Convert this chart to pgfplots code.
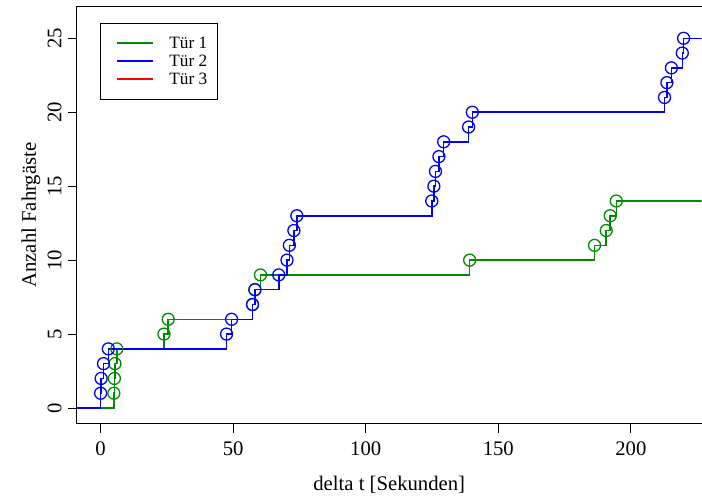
\documentclass[border=0pt]{standalone}
\usepackage{fontspec}
\setmainfont{Liberation Serif}
\usepackage{pgfplots}
\pgfplotsset{compat=1.18}
\definecolor{rgreen}{RGB}{0,139,0}
\definecolor{rblue}{RGB}{0,0,255}
\definecolor{rred}{RGB}{255,0,0}
\pgfplotsset{
  rlegend/.style={legend image code/.code={
    \path[draw=none] (0bp,0bp) -- (42.3bp,0bp);
    \draw[draw=#1, line width=1.5bp] (6.3bp,5.7bp) -- (42.3bp,5.7bp);
  }},
}
\begin{document}
\begin{tikzpicture}
\begin{axis}[
  every non boxed x axis/.style={},
  every non boxed y axis/.style={},
  scale only axis, width=625bp, height=417.5bp,
  xmin=-8.93, xmax=226.65, ymin=-1.06, ymax=27.15,
  axis x line*=box, axis y line*=left,
  axis line style={-, line width=1bp, black},
  xtick={0,50,...,200}, ytick={0,5,...,25},
  xtick pos=bottom, ytick pos=left,
  tick align=outside, major tick length=9bp,
  tick style={line width=1bp, black},
  /pgf/number format/assume math mode=true,
  ticklabel style={font=\fontsize{20.7bp}{24bp}\selectfont, inner sep=0pt},
  xticklabel style={anchor=north},
  yticklabel style={rotate=90, anchor=south},
  xticklabel shift=9bp, yticklabel shift=6.3bp,
  xlabel={delta t [Sekunden]}, ylabel={Anzahl Fahrgäste},
  every axis x label/.style={at={(axis description cs:0.5,0)}, yshift=-61.5bp, anchor=center},
  every axis y label/.style={at={(axis description cs:0,0.5)}, xshift=-46bp, rotate=90, anchor=center},
  label style={font=\fontsize{20.7bp}{24bp}\selectfont, inner sep=0pt},
  legend style={at={(rel axis cs:0.0368,0.9612)}, anchor=north west,
    draw=black, line width=0.9bp, fill=white,
    inner xsep=10.4bp, inner ysep=10.8bp,
    row sep=-0.4bp, column sep=15.6bp,
    font=\fontsize{17.3bp}{20bp}\selectfont,
    nodes={inner sep=0pt, anchor=base west, text height=14.9bp, text depth=3.5bp, draw=none}},
  legend cell align=left,
]
\coordinate (BL) at (rel axis cs:0,0);
\coordinate (TR) at (rel axis cs:1,1);
% Tür 1
\addplot[const plot mark left, color=rgreen, line width=1.5bp, no markers, rlegend=rgreen] coordinates {
(-8.93,0) (5.0,1) (5.2,2) (5.4,3) (6.1,4) (23.9,5) (25.5,6) (57.3,7) (58.2,8) (60.3,9)
(139.2,10) (186.3,11) (190.7,12) (192.2,13) (194.5,14) (226.65,14)
};
\addlegendentry{Tür 1}
\addplot[forget plot, only marks, color=rgreen, mark=o, mark size=6bp, mark options={line width=1.3bp}] coordinates {
(5.0,1) (5.2,2) (5.4,3) (6.1,4) (23.9,5) (25.5,6) (57.3,7) (58.2,8) (60.3,9)
(139.2,10) (186.3,11) (190.7,12) (192.2,13) (194.5,14)
};
% Tür 2
\addplot[const plot mark left, color=rblue, line width=1.5bp, no markers, rlegend=rblue] coordinates {
(-8.93,0) (0,1) (0.2,2) (1.1,3) (2.9,4) (47.5,5) (49.4,6) (57.3,7) (58.2,8) (67.2,9)
(70.3,10) (71.2,11) (72.9,12) (74.0,13) (124.9,14) (125.7,15) (126.3,16) (127.6,17)
(129.4,18) (138.8,19) (140.2,20) (212.7,21) (213.6,22) (215.3,23) (219.4,24) (219.9,25)
(226.65,25)
};
\addlegendentry{Tür 2}
\addplot[forget plot, only marks, color=rblue, mark=o, mark size=6bp, mark options={line width=1.3bp}] coordinates {
(0,1) (0.2,2) (1.1,3) (2.9,4) (47.5,5) (49.4,6) (57.3,7) (58.2,8) (67.2,9)
(70.3,10) (71.2,11) (72.9,12) (74.0,13) (124.9,14) (125.7,15) (126.3,16) (127.6,17)
(129.4,18) (138.8,19) (140.2,20) (212.7,21) (213.6,22) (215.3,23) (219.4,24) (219.9,25)
};
% Tür 3 (legend only)
\addlegendimage{rlegend=rred}
\addlegendentry{Tür 3}
\end{axis}
\path ([xshift=-77bp,yshift=-76bp]BL) rectangle ([yshift=6.5bp]TR);
\end{tikzpicture}
\end{document}
